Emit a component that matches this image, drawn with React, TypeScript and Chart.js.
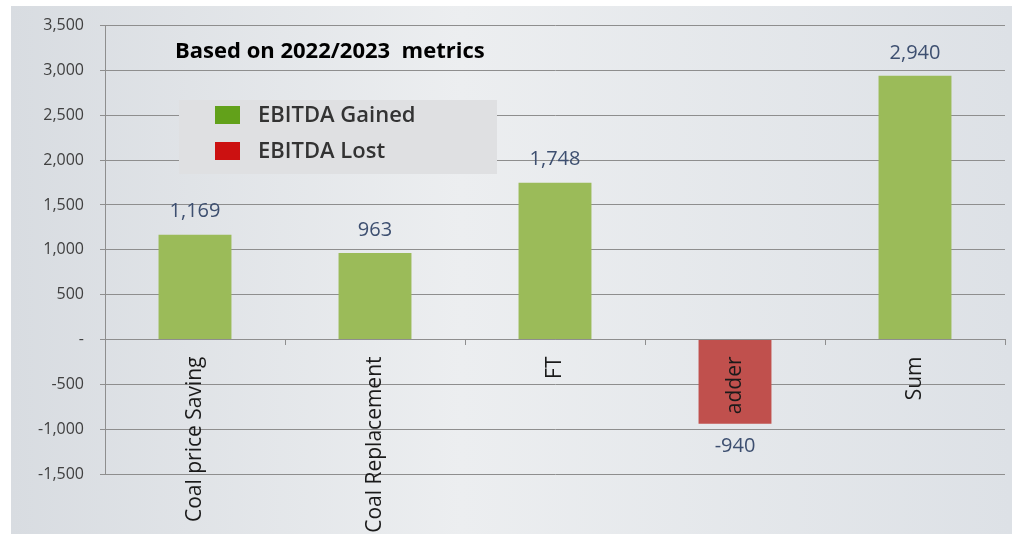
import React, { useEffect, useRef } from "react";
import { Chart, registerables } from "chart.js";

Chart.register(...registerables);

// ---- data ----
const categories = ["Coal price Saving", "Coal Replacement", "FT", "adder", "Sum"];
const values = [1169, 963, 1748, -940, 2940];
const legendLabels = ["EBITDA Gained", "EBITDA Lost"];
const titleText = "Based on 2022/2023  metrics";
const yMin = -1500;
const yMax = 3500;
const yStep = 500;

// ---- styles ----
const GAIN_BAR = "#9bbb59";
const LOSS_BAR = "#c0504d";
const GAIN_LEGEND = "#62a11a";
const LOSS_LEGEND = "#cc1111";
const GRID = "#8e8e8e";
const FONT = "'Open Sans', 'DejaVu Sans', sans-serif";

const fmt = (v: number) => (v === 0 ? "-" : v.toLocaleString("en-US"));

const backgroundPlugin = {
  id: "panelBg",
  beforeDraw(chart: any) {
    const { ctx, width, height } = chart;
    ctx.save();
    ctx.fillStyle = "#ffffff";
    ctx.fillRect(0, 0, width, height);
    const g = ctx.createLinearGradient(11, 0, width, 0);
    g.addColorStop(0, "#d8dce1");
    g.addColorStop(0.45, "#eceef0");
    g.addColorStop(1, "#dde1e6");
    ctx.fillStyle = g;
    ctx.fillRect(11, 6, width - 11, height - 6);
    ctx.restore();
  },
};

const overlayPlugin = {
  id: "overlay",
  afterDatasetsDraw(chart: any) {
    const { ctx } = chart;
    const meta = chart.getDatasetMeta(0);
    ctx.save();
    // value labels
    ctx.font = `20px ${FONT}`;
    ctx.fillStyle = "#3d4f70";
    ctx.textAlign = "center";
    ctx.textBaseline = "middle";
    meta.data.forEach((bar: any, i: number) => {
      const v = values[i];
      const y = v >= 0 ? bar.y - 23 : bar.y + 23;
      ctx.fillText(fmt(v), bar.x, y);
    });

    // title
    ctx.font = `bold 22px ${FONT}`;
    ctx.fillStyle = "#000000";
    ctx.textAlign = "left";
    ctx.textBaseline = "alphabetic";
    ctx.fillText(titleText, 175, 58);

    // legend box
    ctx.fillStyle = "#dfe0e2";
    ctx.fillRect(179, 100, 318, 74);
    const colors = [GAIN_LEGEND, LOSS_LEGEND];
    const rows = [106, 142];
    legendLabels.forEach((lab, i) => {
      ctx.fillStyle = colors[i];
      ctx.fillRect(215, rows[i], 25, 18);
      ctx.fillStyle = "#333333";
      ctx.font = `600 22px ${FONT}`;
      ctx.fillText(lab, 258, rows[i] + 16);
    });
    ctx.restore();
  },
};

export default function App() {
  const ref = useRef<HTMLCanvasElement | null>(null);

  useEffect(() => {
    const canvas = ref.current;
    if (!canvas) return;
    const chart = new Chart(canvas, {
      type: "bar",
      data: {
        labels: categories,
        datasets: [
          {
            label: "EBITDA",
            data: values,
            backgroundColor: values.map((v) => (v >= 0 ? GAIN_BAR : LOSS_BAR)),
            borderWidth: 0,
            barPercentage: 0.405,
            categoryPercentage: 1,
          },
        ],
      },
      options: {
        responsive: false,
        animation: false,
        devicePixelRatio: 1,
        layout: { padding: { left: 0, right: 7, top: 23, bottom: 60 } },
        plugins: {
          legend: { display: false },
          tooltip: { enabled: false },
          title: { display: false },
        },
        scales: {
          x: {
            position: { y: 0 } as any,
            offset: true,
            grid: {
              display: true,
              offset: true,
              drawOnChartArea: false,
              drawTicks: true,
              tickLength: 5,
              color: GRID,
            },
            border: { display: true, color: GRID, width: 1 },
            ticks: {
              z: 1,
              minRotation: 90,
              maxRotation: 90,
              autoSkip: false,
              padding: 12,
              color: "#1a1a1a",
              font: { family: FONT, size: 21 },
            },
            afterFit: (s: any) => {
              s.height = 0;
            },
          },
          y: {
            min: yMin,
            max: yMax,
            ticks: {
              stepSize: yStep,
              padding: 16,
              color: "#404040",
              font: { family: FONT, size: 16 },
              callback: (v: any) => fmt(Number(v)),
            },
            grid: {
              color: GRID,
              tickLength: 5,
              drawTicks: true,
            },
            border: { display: true, color: GRID, width: 1 },
            afterFit: (s: any) => {
              s.width = 105;
            },
          },
        },
      },
      plugins: [backgroundPlugin, overlayPlugin],
    });
    return () => chart.destroy();
  }, []);

  return (
    <div style={{ position: "absolute", left: 0, top: 0, width: 1012, height: 534 }}>
      <canvas ref={ref} width={1012} height={534} style={{ display: "block" }} />
    </div>
  );
}
